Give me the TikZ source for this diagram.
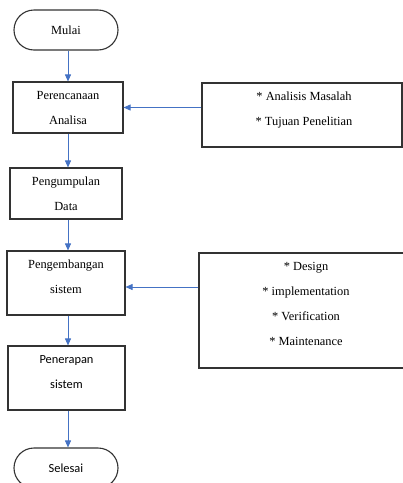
\documentclass[tikz,border=0pt]{standalone}
\usepackage{fontspec}
\setmainfont{Liberation Serif}
\newfontfamily\calibri{Carlito}
\usepackage{xcolor}
\usetikzlibrary{arrows.meta,positioning}
\definecolor{arrowblue}{HTML}{4472C4}

\begin{document}
\begin{tikzpicture}[
		x=1pt, y=-1pt,
		font=\fontsize{12.4}{25}\selectfont,
		box/.style={draw=black!80, line width=1.1pt,
			align=center, inner sep=0pt},
		term/.style={box, rounded corners=20pt,
			minimum width=104pt, minimum height=40pt},
		sans/.style={font=\fontsize{12.4}{25}\calibri},
		arrow/.style={-{Triangle[length=7pt,width=6pt]}, draw=arrowblue, line width=0.8pt},
		]
		\useasboundingbox (0,0) rectangle (403,483);
		
		% alur utama
		\node[term] (mulai) at (66,30) {Mulai};
		\node[box, minimum width=110pt, minimum height=51pt] (perencanaan) at (68,107.5)
		{Perencanaan\\Analisa};
		\node[box, minimum width=112pt, minimum height=51pt] (pengumpulan) at (66,193.5)
		{Pengumpulan\\Data};
		\node[box, minimum width=118pt, minimum height=64pt] (pengembangan) at (66,283) {};
		\node[align=center] (pengembangan-teks) at (66,277) {Pengembangan\\sistem};
		\node[box, minimum width=117pt, minimum height=64pt] (penerapan) at (66.5,378) {};
		\node[align=center, sans] (penerapan-teks) at (66.5,372.5) {Penerapan\\sistem};
		\node[term, sans] (selesai) at (66,468) {Selesai};
		
		% keterangan
		\node[box, minimum width=200pt, minimum height=64pt] (masalah) at (302,115) {};
		\node[align=center] (masalah-teks) at (304,110)
		{* Analisis Masalah\\* Tujuan Penelitian};
		\node[box, minimum width=205pt, minimum height=115pt] (tahapan) at (301.5,310.5) {};
		\node[align=center] (tahapan-teks) at (306,303.5)
		{* Design\\* implementation\\* Verification\\* Maintenance};
		
		\draw[arrow] (mulai.south -| perencanaan) -- (perencanaan.north);
		\draw[arrow] (perencanaan.south) -- (perencanaan.south |- pengumpulan.north);
		\draw[arrow] (pengumpulan.south -| perencanaan) -- (pengembangan.north -| perencanaan);
		\draw[arrow] (pengembangan.south -| perencanaan) -- (penerapan.north -| perencanaan);
		\draw[arrow] (penerapan.south -| perencanaan) -- (selesai.north -| perencanaan);
		\draw[arrow] (masalah.west |- perencanaan) -- (perencanaan.east);
		\draw[arrow] ([yshift=-4pt]tahapan.west |- pengembangan) -- ([yshift=-4pt]pengembangan.east);
		
	\end{tikzpicture}
\end{document}
